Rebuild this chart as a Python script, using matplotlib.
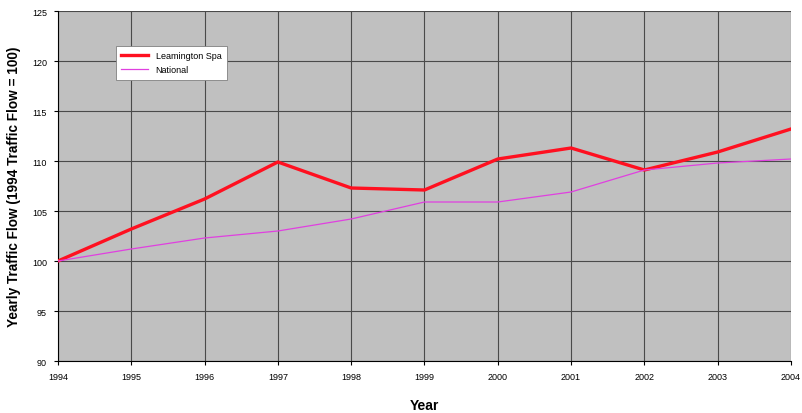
import matplotlib
matplotlib.use('Agg')
import matplotlib.pyplot as plt

years = [1994, 1995, 1996, 1997, 1998, 1999, 2000, 2001, 2002, 2003, 2004]
leamington = [100.0, 103.2, 106.2, 109.9, 107.3, 107.1, 110.2, 111.3, 109.1, 110.9, 113.2]
national = [100.0, 101.2, 102.3, 103.0, 104.2, 105.9, 105.9, 106.9, 109.1, 109.8, 110.2]

plt.rcParams['font.family'] = ['Liberation Sans', 'DejaVu Sans']

fig = plt.figure(figsize=(8.03, 4.14), dpi=100)
ax = fig.add_axes([0.0722, 0.1256, 0.9128, 0.8454])
ax.set_facecolor('#c0c0c0')

ax.plot(years, leamington, color='#ff1020', linewidth=2.4, label='Leamington Spa', zorder=3)
ax.plot(years, national, color='#e040e0', linewidth=0.9, label='National', zorder=3)

ax.set_xlim(1994, 2004)
ax.set_ylim(90, 125)
ax.set_xticks(years)
ax.set_yticks(range(90, 126, 5))
ax.tick_params(labelsize=6.5, length=3, color='black', pad=5)
ax.grid(True, color='#4a4a4a', linewidth=0.8)
ax.set_axisbelow(True)
for s in ['top', 'right']:
    ax.spines[s].set_visible(False)

ax.set_xlabel('Year', fontsize=10, fontweight='bold', labelpad=12)
ax.set_ylabel('Yearly Traffic Flow (1994 Traffic Flow = 100)', fontsize=9.8, fontweight='bold', labelpad=8)

leg = ax.legend(loc='upper left', bbox_to_anchor=(0.073, 0.914), fontsize=6.5,
                frameon=True, fancybox=False, edgecolor='#808080', facecolor='white',
                framealpha=1, handlelength=3, borderpad=0.6, labelspacing=0.6)
leg.get_frame().set_linewidth(0.6)

fig.savefig('out.png', dpi=100)
